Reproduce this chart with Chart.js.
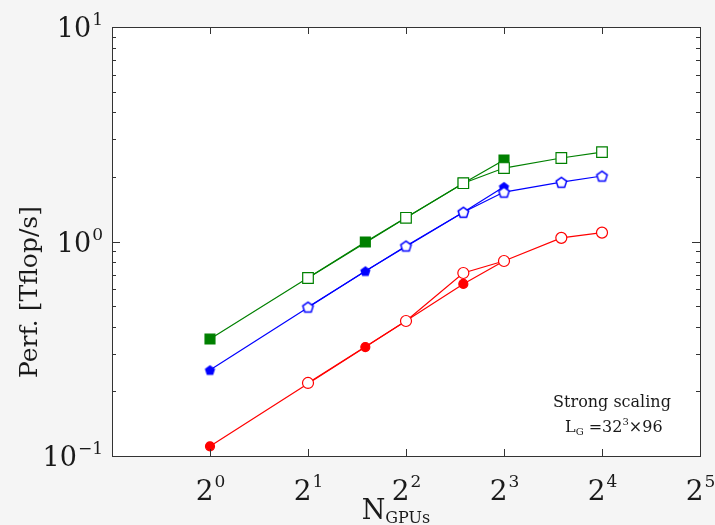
<!DOCTYPE html>
<html>
<head>
<meta charset="utf-8">
<script src="https://cdn.jsdelivr.net/npm/chart.js@4.4.1/dist/chart.umd.min.js"></script>
<style>
  html, body { margin: 0; padding: 0; background: #f5f5f5; }
  canvas { display: block; }
</style>
</head>
<body>
<canvas id="chart" width="715" height="525"></canvas>
<script>
// GPU counts
const filledGpus = [1, 3, 6, 8];
const openGpus = [2, 4, 6, 8, 12, 16];

// performance in Tflop/s
const greenFilled = [0.351, 0.995, 1.87, 2.40];
const greenOpen = [0.676, 1.29, 1.87, 2.20, 2.45, 2.61];
const blueFilled = [0.252, 0.729, 1.37, 1.80];
const blueOpen = [0.495, 0.953, 1.37, 1.70, 1.89, 2.02];
const redFilled = [0.111, 0.322, 0.634, 0.811];
const redOpen = [0.219, 0.426, 0.713, 0.811, 1.04, 1.10];

// tick labels are powers: 2^n on x, 10^n on y
const xTickExps = [0, 1, 2, 3, 4, 5];
const yTickExps = [-1, 0, 1];

const GREEN = "#008000";
const BLUE = "#0000ff";
const RED = "#ff0000";
const SERIF = "'DejaVu Serif', 'Liberation Serif', serif";

function pentagon(fill, stroke, size) {
  const c = document.createElement("canvas");
  c.width = c.height = size + 4;
  const g = c.getContext("2d");
  const cx = c.width / 2, cy = c.height / 2 + 0.6, r = size / 2;
  g.beginPath();
  for (let i = 0; i < 5; i++) {
    const a = -Math.PI / 2 + i * 2 * Math.PI / 5;
    g.lineTo(cx + r * Math.cos(a), cy + r * Math.sin(a));
  }
  g.closePath();
  g.fillStyle = fill;
  g.fill();
  g.lineWidth = 1.5;
  g.strokeStyle = stroke;
  g.stroke();
  return c;
}

function series(label, xs, ys, color, style, filled, radius) {
  return {
    label,
    data: xs.map((x, i) => ({ x, y: ys[i] })),
    showLine: true,
    borderColor: color,
    borderWidth: 1.2,
    pointStyle: style,
    pointRadius: radius,
    pointBorderWidth: 1.2,
    pointBorderColor: color,
    pointBackgroundColor: filled ? color : "#ffffff",
    order: filled ? 1 : 0
  };
}

const datasets = [
  series("green open", openGpus, greenOpen, GREEN, "rect", false, 7.5),
  series("blue open", openGpus, blueOpen, BLUE, pentagon("#ffffff", BLUE, 11), false, 6),
  series("red open", openGpus, redOpen, RED, "circle", false, 5.5),
  series("green filled", filledGpus, greenFilled, GREEN, "rect", true, 7),
  series("blue filled", filledGpus, blueFilled, BLUE, pentagon(BLUE, BLUE, 9), true, 5),
  series("red filled", filledGpus, redFilled, RED, "circle", true, 4.5)
];

function powLabel(ctx, base, exp, x, y, align, bSize, eSize, lift) {
  ctx.font = bSize + "px " + SERIF;
  const wb = ctx.measureText(base).width;
  ctx.font = eSize + "px " + SERIF;
  const we = ctx.measureText(exp).width;
  const left = align === "right" ? x - wb - we - 1 : x - (wb + we) / 2;
  ctx.textAlign = "left";
  ctx.textBaseline = "alphabetic";
  ctx.font = bSize + "px " + SERIF;
  ctx.fillText(base, left, y);
  ctx.font = eSize + "px " + SERIF;
  ctx.fillText(exp, left + wb + 1, y - lift);
}

const decor = {
  id: "decor",
  beforeDraw(chart) {
    const { ctx, chartArea: a } = chart;
    ctx.save();
    ctx.fillStyle = "#f5f5f5";
    ctx.fillRect(0, 0, chart.width, chart.height);
    ctx.fillStyle = "#ffffff";
    ctx.fillRect(a.left, a.top, a.right - a.left, a.bottom - a.top);
    ctx.restore();
  },
  afterDraw(chart) {
    const { ctx, chartArea: a, scales } = chart;
    const xs = scales.x, ys = scales.y;
    ctx.save();
    ctx.strokeStyle = "#333333";
    ctx.lineWidth = 1;

    // inner ticks
    ctx.beginPath();
    for (let e = -1; e <= 1; e++) {
      for (let k = 1; k <= 9; k++) {
        const v = k * Math.pow(10, e);
        if (v < 0.1 || v > 10) continue;
        const py = Math.round(ys.getPixelForValue(v)) + 0.5;
        const len = k === 1 ? 8 : 4;
        ctx.moveTo(a.left, py); ctx.lineTo(a.left + len, py);
        ctx.moveTo(a.right, py); ctx.lineTo(a.right - len, py);
      }
    }
    xTickExps.forEach(n => {
      const px = Math.round(xs.getPixelForValue(Math.pow(2, n))) + 0.5;
      ctx.moveTo(px, a.bottom); ctx.lineTo(px, a.bottom - 7);
      ctx.moveTo(px, a.top); ctx.lineTo(px, a.top + 7);
    });
    ctx.stroke();

    // frame
    ctx.strokeRect(Math.round(a.left) + 0.5, Math.round(a.top) + 0.5,
      Math.round(a.right - a.left), Math.round(a.bottom - a.top));

    // tick labels
    ctx.fillStyle = "#1a1a1a";
    yTickExps.forEach(n => {
      const py = ys.getPixelForValue(Math.pow(10, n));
      powLabel(ctx, "10", n < 0 ? "\u2212" + (-n) : String(n), 103, py + 10, "right", 27, 17, 12);
    });
    xTickExps.forEach(n => {
      const px = xs.getPixelForValue(Math.pow(2, n));
      powLabel(ctx, "2", String(n), px, a.bottom + 44, "center", 28, 17, 13);
    });

    // axis titles
    ctx.font = "25px " + SERIF;
    ctx.textAlign = "center";
    ctx.textBaseline = "middle";
    ctx.save();
    ctx.translate(30, 292);
    ctx.rotate(-Math.PI / 2);
    ctx.fillText("Perf. [Tflop/s]", 0, 0);
    ctx.restore();

    ctx.textAlign = "left";
    ctx.textBaseline = "alphabetic";
    ctx.font = "27px " + SERIF;
    const wN = ctx.measureText("N").width;
    ctx.font = "16px " + SERIF;
    const wS = ctx.measureText("GPUs").width;
    const nx = 396 - (wN + wS) / 2;
    ctx.font = "27px " + SERIF;
    ctx.fillText("N", nx, 519);
    ctx.font = "16px " + SERIF;
    ctx.fillText("GPUs", nx + wN, 523);

    // annotation
    ctx.font = "16px " + SERIF;
    ctx.textAlign = "center";
    ctx.fillText("Strong scaling", 612, 407);
    ctx.textAlign = "left";
    let tx = 565;
    const parts = [["L", 16, 0], ["G", 10, -3], [" =32", 16, 0], ["3", 10, 7], ["\u00d796", 16, 0]];
    parts.forEach(([t, s, dy]) => {
      ctx.font = s + "px " + SERIF;
      ctx.fillText(t, tx, 432 - dy);
      tx += ctx.measureText(t).width;
    });
    ctx.restore();
  }
};

new Chart(document.getElementById("chart"), {
  type: "scatter",
  data: { datasets },
  options: {
    responsive: false,
    animation: false,
    layout: { padding: { top: 27, right: 15, left: 0, bottom: 0 } },
    plugins: { legend: { display: false }, tooltip: { enabled: false } },
    scales: {
      x: {
        type: "logarithmic",
        min: 0.5,
        max: 32,
        grid: { display: false, drawTicks: false },
        border: { display: false },
        ticks: { display: false },
        afterFit(scale) { scale.height = 69; }
      },
      y: {
        type: "logarithmic",
        min: 0.1,
        max: 10,
        grid: { display: false, drawTicks: false },
        border: { display: false },
        ticks: { display: false },
        afterFit(scale) { scale.width = 112; }
      }
    }
  },
  plugins: [decor]
});
</script>
</body>
</html>
